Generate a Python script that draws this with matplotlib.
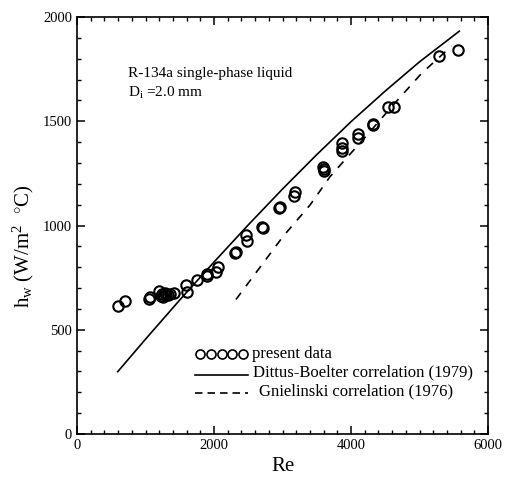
import matplotlib
matplotlib.use("Agg")
import matplotlib.pyplot as plt
from matplotlib.ticker import MultipleLocator

plt.rcParams['font.family'] = ['Liberation Serif', 'DejaVu Serif']
plt.rcParams['mathtext.fontset'] = 'custom'
plt.rcParams['mathtext.rm'] = 'Liberation Serif'
plt.rcParams['mathtext.it'] = 'Liberation Serif:italic'

# --- measured data (Re, h_w) ---
re_data = [594, 701, 1056, 1070, 1202, 1220, 1240, 1260, 1280, 1300, 1330, 1358,
           1421, 1591, 1601, 1747, 1893, 1900, 2029, 2054, 2310, 2320, 2467, 2475,
           2700, 2710, 2950, 2964, 3168, 3182, 3596, 3611, 3600, 3873, 3873, 3873,
           4097, 4097, 4321, 4321, 4545, 4632, 5285, 5562]
h_data = [614, 638, 647, 655, 687, 660, 670, 655, 675, 665, 668, 672,
          678, 716, 680, 739, 759, 765, 778, 802, 867, 875, 954, 926,
          993, 990, 1085, 1090, 1141, 1162, 1282, 1261, 1270, 1394, 1373, 1359,
          1437, 1421, 1487, 1480, 1567, 1567, 1813, 1842]

# --- correlations ---
re_db = [594, 1000, 1500, 2000, 2500, 3000, 3500, 4000, 4500, 5000, 5581]
h_db = [299, 455, 643, 825, 1003, 1175, 1340, 1498, 1645, 1785, 1932]

re_gn = [2320, 3004, 3401, 3693, 4277, 4594, 5031, 5470]
h_gn = [645, 946, 1098, 1234, 1450, 1570, 1730, 1861]

fig = plt.figure(figsize=(5.07, 4.82), dpi=100)
ax = fig.add_axes([0.152, 0.0996, 0.8105, 0.8651])

ax.plot(re_db, h_db, 'k-', lw=1.2)
ax.plot(re_gn, h_gn, 'k', lw=1.2, dashes=(5, 5))
ax.plot(re_data, h_data, 'o', mfc='none', mec='k', mew=1.5, ms=7.5)

ax.set_xlim(0, 6000)
ax.set_ylim(0, 2000)
ax.xaxis.set_major_locator(MultipleLocator(2000))
ax.xaxis.set_minor_locator(MultipleLocator(200))
ax.yaxis.set_major_locator(MultipleLocator(500))
ax.yaxis.set_minor_locator(MultipleLocator(100))
ax.tick_params(which='both', direction='in', top=True, right=True, labelsize=10.5)
ax.tick_params(which='major', length=6, width=1.1)
ax.tick_params(which='minor', length=3, width=1.0)
for s in ax.spines.values():
    s.set_linewidth(1.2)

ax.set_xlabel('Re', fontsize=15, labelpad=4)
ax.set_ylabel('h$_\\mathrm{w}$ (W/m$^{2}$  $^{\\circ}$C)', fontsize=15)
ax.yaxis.set_label_coords(-0.1, 0.45)

ax.text(0.125, 0.865, 'R-134a single-phase liquid', transform=ax.transAxes,
        fontsize=11, va='center')
ax.text(0.125, 0.817, 'D$_\\mathrm{i}$ =2.0 mm', transform=ax.transAxes,
        fontsize=11, va='center')

# --- legend drawn by hand ---
tr = ax.transAxes
ax.plot([0.299, 0.326, 0.352, 0.378, 0.404], [0.192] * 5, 'o', mfc='none', mec='k',
        mew=1.2, ms=6.5, transform=tr)
ax.text(0.426, 0.192, 'present data', transform=tr, fontsize=12, va='center')
ax.plot([0.287, 0.416], [0.1415, 0.1415], 'k-', lw=1.2, transform=tr)
ax.text(0.428, 0.147, 'Dittus-Boelter correlation (1979)', transform=tr,
        fontsize=12, va='center')
ax.plot([0.287, 0.416], [0.098, 0.098], 'k', lw=1.2, dashes=(4.5, 3), transform=tr)
ax.text(0.443, 0.102, 'Gnielinski correlation (1976)', transform=tr,
        fontsize=12, va='center')

fig.savefig('out.png', dpi=100)
